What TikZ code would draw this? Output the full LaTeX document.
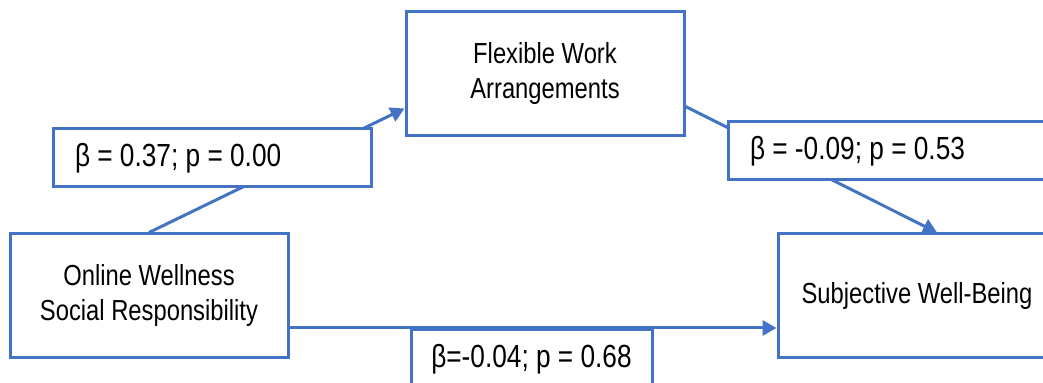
\documentclass[tikz,border=0pt]{standalone}
\usepackage{fontspec}
\setmainfont{Liberation Sans}[FakeStretch=0.82]
\usepackage{xcolor}
\usetikzlibrary{arrows.meta, positioning}
\definecolor{officeblue}{HTML}{4472C4}

\begin{document}
\begin{tikzpicture}[
  every node/.style={font=\fontsize{14.5pt}{17.5pt}\selectfont},
  box/.style={draw=officeblue, line width=1.5pt, fill=white, minimum width=139pt, minimum height=62pt, align=flush center, inner sep=1pt},
  coef/.style={box, font=\fontsize{16pt}{19pt}\selectfont, minimum width=0pt, minimum height=29pt, text width=137pt, inner xsep=11pt, align=flush left},
  arr/.style={-{Triangle[length=7pt, width=7.5pt]}, draw=officeblue, line width=1.5pt}
]
\useasboundingbox (0,0) rectangle (521.5pt,-191.5pt);

% Three variables of the model
\node[box] (owsr) at (74.5pt,-148pt) {Online Wellness\\ Social Responsibility};
\node[box, right=57.5pt of owsr, yshift=111pt] (fwa) {Flexible Work\\ Arrangements};
\node[box, right=45.5pt of fwa, yshift=-111pt] (swb) {Subjective Well-Being};

% Paths
\coordinate (src) at ([yshift=-16pt]owsr.east);
\draw[arr] (owsr.north) -- ([yshift=14.5pt]fwa.south west);
\draw[arr] ([yshift=15.5pt]fwa.south east) -- ([xshift=10pt]swb.north);
\draw[arr] (src) -- (src -| swb.west);

% Coefficients on top of the paths
\node[coef, above right=22pt and 21.5pt of owsr.north west] (c1) {β = 0.37; p = 0.00};
\node[coef, above right=25.5pt and -25pt of swb.north west] (c2) {β = -0.09; p = 0.53};
\node[coef, text width=112pt, inner xsep=4.25pt, align=flush center, minimum height=30pt, below right=0pt and 60pt of src] (c3) {β=-0.04; p = 0.68};

\end{tikzpicture}
\end{document}
